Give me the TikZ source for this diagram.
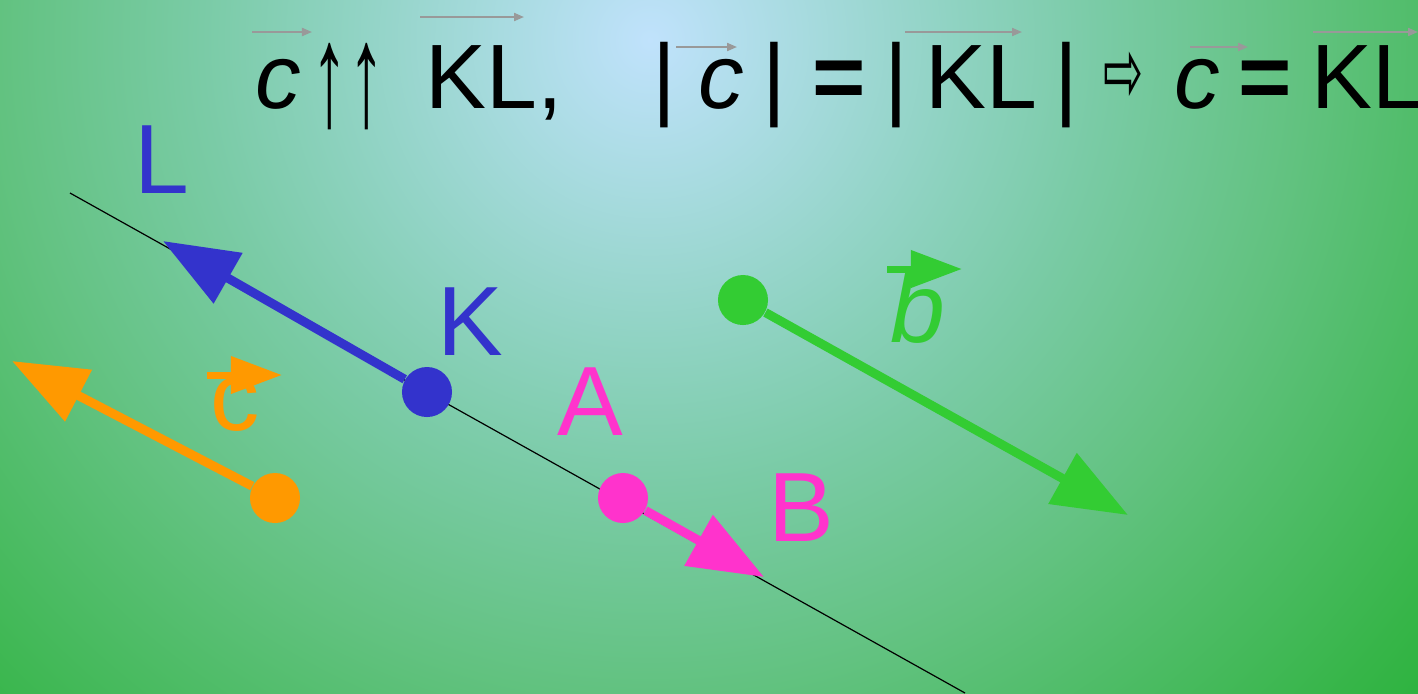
\documentclass[tikz,border=0pt]{standalone}
\usepackage{fontspec}
\setmainfont{Liberation Sans}
\newfontfamily\symfont{DejaVu Sans}
\usetikzlibrary{arrows.meta}

\definecolor{vblue}{HTML}{3333CC}
\definecolor{vpink}{HTML}{FF33CC}
\definecolor{vorange}{HTML}{FF9900}
\definecolor{vgreen}{HTML}{33CC33}
\definecolor{bargray}{HTML}{999999}
\definecolor{bg0}{HTML}{C0E2FC}
\definecolor{bg1}{HTML}{A8DBE0}
\definecolor{bg2}{HTML}{90D3C3}
\definecolor{bg3}{HTML}{7ACBA6}
\definecolor{bg4}{HTML}{62C280}
\definecolor{bg5}{HTML}{36B548}
\definecolor{bg6}{HTML}{22B033}
\pgfdeclareradialshading{bgglow}{\pgfpoint{0bp}{0bp}}{%
  color(0bp)=(bg0); color(3.4bp)=(bg1); color(6.8bp)=(bg2);
  color(10.2bp)=(bg3); color(14.8bp)=(bg4); color(21.6bp)=(bg5);
  color(25bp)=(bg6); color(50bp)=(bg6)}

\begin{document}
\begin{tikzpicture}[x=0.01cm, y=-0.01cm,
    dot/.style={circle, inner sep=0pt, minimum size=0.5cm},
    vec/.style={line width=0.09cm, -{Triangle[length=0.75cm, width=0.56cm]}},
    lblvec/.style={line width=0.07cm, -{Triangle[length=0.51cm, width=0.36cm]}},
    overbar/.style={bargray, line width=0.02cm, -{Triangle[length=0.1cm, width=0.08cm]}},
    lbl/.style={inner sep=0pt, font=\fontsize{28}{30}\selectfont},
    frm/.style={inner sep=0pt, anchor=base west, font=\fontsize{26}{30}\selectfont}
]
\useasboundingbox (0,0) rectangle (1418,693);
\begin{scope}
  \clip (0,0) rectangle (1418,693);
  \shade[shading=bgglow] (650,40) circle[radius=11cm];
\end{scope}

% formula
\node[frm] (c1) at (255,108) {\textit{c}};
\node[frm] (upup) at (311,125) {\scalebox{0.8}[1.6]{↑↑}};
\node[frm] (kl1) at (425,108) {KL,};
\node[frm] (bar1) at (652,108) {|};
\node[frm] (c2) at (698,108) {\textit{c}};
\node[frm] (bar2) at (762,108) {|};
\node[frm] (eq1) at (812,108) {\textbf{=}};
\node[frm] (bar3) at (884,108) {|};
\node[frm] (kl2) at (925,108) {KL};
\node[frm] (bar4) at (1054,108) {|};
\node[inner sep=0pt, font=\symfont\fontsize{16}{18}\selectfont] (impl) at (1124,77)
     {\scalebox{0.85}[1.6]{⇨}};
\node[frm] (c3) at (1174,108) {\textit{c}};
\node[frm] (eq2) at (1238,108) {\textbf{=}};
\node[frm] (kl3) at (1311,108) {KL};

\draw[overbar] (252,32) -- (312,32);
\draw[overbar] (420,17) -- (524,17);
\draw[overbar] (676,47) -- (737,47);
\draw[overbar] (905,32) -- (1022,32);
\draw[overbar] (1190,47) -- (1248,47);
\draw[overbar] (1313,32) -- (1418,32);

% line KL
\coordinate (top) at (70,193);
\coordinate (bot) at (965,693);
\draw[line width=0.012cm] (top) -- (bot);

% points
\node[dot, fill=vblue] (kdot) at (427,392) {};
\node[dot, fill=vpink] (adot) at (623,498) {};
\node[dot, fill=vorange] (cdot) at (275,498) {};
\node[dot, fill=vgreen] (bdot) at (743,300) {};

\coordinate (ltip) at (163,241);
\coordinate (btip) at (764,577);
\coordinate (ctip) at (12,361);
\coordinate (gtip) at (1128,515);

\draw[vec, vblue] (kdot) -- (ltip);
\draw[vec, vpink] (adot) -- (btip);
\draw[vec, vorange] (cdot) -- (ctip);
\draw[vec, vgreen] (bdot) -- (gtip);

% labels
\node[lbl, text=vblue] (lL) at (162,160) {L};
\node[lbl, text=vblue] (lK) at (470,322) {K};
\node[lbl, text=vpink] (lA) at (590,402) {A};
\node[lbl, text=vpink] (lB) at (801,508) {B};
\node[lbl, text=vorange, anchor=base] (lc) at (235,430) {c};
\node[lbl, text=vgreen, anchor=base] (lb) at (918,342) {\textit{b}};
\draw[lblvec, vorange] (207,375) -- (282,375);
\draw[lblvec, vgreen] (887,269) -- (962,269);
\end{tikzpicture}
\end{document}
